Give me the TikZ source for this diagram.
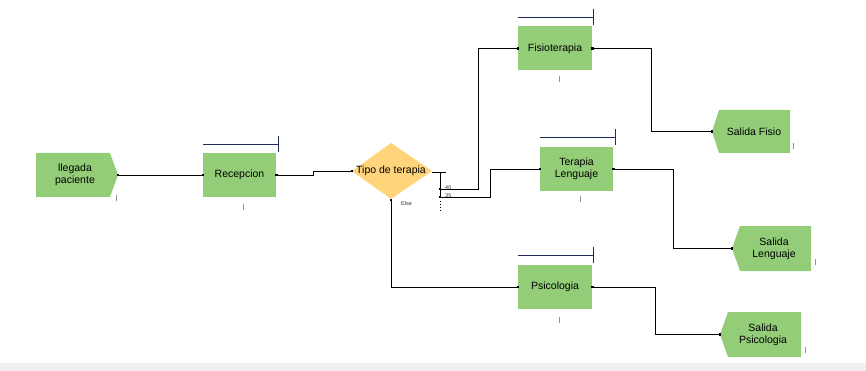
\documentclass[tikz,border=0pt]{standalone}
\usepackage{fontspec}
\setmainfont{Liberation Sans}
\definecolor{boxgreen}{HTML}{93CD78}
\definecolor{diamy}{HTML}{FFD47A}
\definecolor{barblue}{HTML}{1F2A5A}
\definecolor{markc}{HTML}{A08A9A}
\definecolor{bandgray}{HTML}{F0F0F0}
\tikzset{
  box/.style={fill=boxgreen, inner sep=0pt, minimum width=74pt, minimum height=44pt, align=center, font=\fontsize{10.5}{12}\selectfont},
  lbl/.style={inner sep=0pt, align=center, font=\fontsize{10.5}{12}\selectfont},
  conn/.style={draw=black, line width=0.9pt},
  bar/.style={draw=barblue, line width=0.9pt},
  tickmark/.style={draw=markc, line width=0.9pt},
  tinylbl/.style={inner sep=0pt, font=\fontsize{5.5}{6}\selectfont, text=black!80},
  endpt/.style={fill=black, inner sep=0pt, minimum size=2.6pt, rectangle}
}
\begin{document}
\begin{tikzpicture}[x=1pt,y=-1pt]
\useasboundingbox (0,0) rectangle (866,371);
\fill[bandgray] (0,363) rectangle (866,371);

% start event
\fill[boxgreen] (36,153) -- (110,153) -- (118,175) -- (110,197) -- (36,197) -- cycle;
\node[lbl] (llegada) at (75,175) {llegada\\paciente};
\coordinate (llegadaout) at (118,175);

% activities
\node[box, minimum width=73pt] (recep) at (239.5,175) {Recepcion};
\node[box] (fisio) at (555,48.5) {Fisioterapia};
\node[box, minimum width=73pt] (leng) at (576.5,169) {Terapia\\Lenguaje};
\node[box] (psi) at (555,287) {Psicologia};

% bars above activities
\draw[bar] (203,144) -- (278,144); \draw[bar] (278,136) -- (278,152);
\draw[bar] (518,17) -- (593,17); \draw[bar] (593,9) -- (593,25);
\draw[bar] (540,137) -- (615,137); \draw[bar] (615,129) -- (615,145);
\draw[bar] (518,255) -- (593,255); \draw[bar] (593,247) -- (593,263);

% decision
\fill[diamy] (352,171) -- (391,143) -- (432,171) -- (391,199) -- cycle;
\node[lbl] (tipo) at (391,171) {Tipo de terapia};
\coordinate (dL) at (352,171);
\coordinate (dR) at (432,172);
\coordinate (dB) at (391,199);

% exits
\fill[boxgreen] (712,131.5) -- (719,110) -- (790,110) -- (790,153) -- (719,153) -- cycle;
\node[lbl] (sfisio) at (754,131.5) {Salida Fisio};
\coordinate (sfisioin) at (712,131.5);
\fill[boxgreen] (732,248.5) -- (740,226) -- (811,226) -- (811,271) -- (740,271) -- cycle;
\node[lbl] (sleng) at (774,248.5) {Salida\\Lenguaje};
\coordinate (slengin) at (732,248.5);
\fill[boxgreen] (720,334.5) -- (728,312) -- (801,312) -- (801,357) -- (728,357) -- cycle;
\node[lbl] (spsi) at (763,334.5) {Salida\\Psicologia};
\coordinate (spsiin) at (720,334.5);

% connectors
\draw[conn] (llegadaout) -- (recep.west);
\draw[conn] (recep.east) -- (313,175) -- (313,171) -- (dL);
\draw[conn] (dR) -- (446,172);
\draw[conn] (440,172) -- (440,198);
\draw[conn, dotted] (440,201) -- (440,212);
\draw[conn] (440,189) -- (478,189) -- (478,48.5) -- (fisio.west);
\draw[conn] (440,197) -- (490,197) -- (490,169) -- (leng.west);
\draw[conn] (dB) -- (391,287) -- (psi.west);
\draw[conn] (fisio.east) -- (651,48.5) -- (651,131.5) -- (sfisioin);
\draw[conn] (leng.east) -- (673,169) -- (673,248.5) -- (slengin);
\draw[conn] (psi.east) -- (655,287) -- (655,334.5) -- (spsiin);

% end points
\node[endpt] at (llegadaout) {};
\node[endpt] at (recep.west) {};
\node[endpt] at (recep.east) {};
\node[endpt] at (dL) {};
\node[endpt] at (fisio.west) {};
\node[endpt] at (fisio.east) {};
\node[endpt] at (leng.west) {};
\node[endpt] at (leng.east) {};
\node[endpt] at (psi.west) {};
\node[endpt] at (psi.east) {};
\node[endpt] at (sfisioin) {};
\node[endpt] at (slengin) {};
\node[endpt] at (spsiin) {};
\node[endpt] at (440,189) {};
\node[endpt] at (440,197) {};
\node[endpt] at (391,200) {};

% small labels
\node[tinylbl, anchor=west] (p40) at (445,188) {40};
\node[tinylbl, anchor=west] (p35) at (445,196) {35};
\node[tinylbl, anchor=west] (pelse) at (401,204) {Else};

% small marks
\draw[tickmark] (116,195) -- (116,201);
\draw[tickmark] (243,204) -- (243,210);
\draw[tickmark] (559,76) -- (559,82);
\draw[tickmark] (580,196) -- (580,202);
\draw[tickmark] (559,317) -- (559,323);
\draw[tickmark] (793,143) -- (793,149);
\draw[tickmark] (815,259) -- (815,265);
\draw[tickmark] (805,347) -- (805,353);
\end{tikzpicture}
\end{document}
